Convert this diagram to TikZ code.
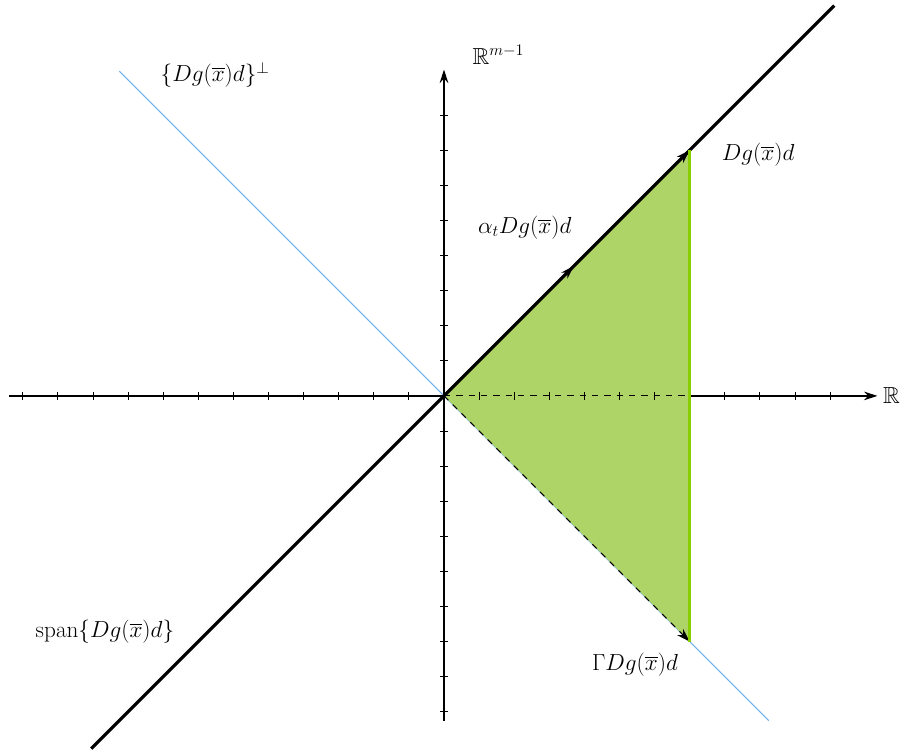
\documentclass[tikz,border=0pt]{standalone}
\usepackage{amsmath}
\usepackage{amssymb}
\usepackage{xcolor}
\usepackage{tikz}
\usetikzlibrary{calc, arrows.meta}
\definecolor{conefill}{RGB}{174,212,104}
\definecolor{coneedge}{RGB}{136,206,0}
\definecolor{perpline}{RGB}{110,178,238}

\begin{document}
\begin{tikzpicture}[lab/.style={font=\LARGE, scale=1.09, transform shape}, >={Stealth[length=11pt, width=7pt]}]
\useasboundingbox (-12.65,-10.17) rectangle (13.02,11.28);

% cone: apex O, tips P=(7,7), Q=(7,-7) ; midpoint arrow at M
\coordinate (O) at (0,0);
\coordinate (P) at (7,7);
\coordinate (Q) at (7,-7);
\coordinate (M) at (3.7,3.7);
\coordinate (X) at (7,0);

%% ── orthogonal complement (blue) ─────────────────────────────────
\coordinate (perpA) at (-9.25,9.25);
\coordinate (perpB) at (9.25,-9.25);
\draw[perpline, line width=0.8pt] (perpA) -- (perpB);

%% ── axes ─────────────────────────────────────────────────────────
\coordinate (hL) at (-12.4,0);
\coordinate (hR) at (12.35,0);
\coordinate (vB) at (0,-9.25);
\coordinate (vT) at (0,9.3);
\draw[->, line width=1.1pt] (hL) -- (hR);
\draw[->, line width=1.1pt] (vB) -- (vT);

%% ── cone (filled triangle, covers the axis) ──────────────────────
\fill[conefill] (O) -- (P) -- (Q) -- cycle;

%% ── ticks ────────────────────────────────────────────────────────
\foreach \i in {-12,...,-1,1,2,...,11}{\draw[line width=0.8pt] (\i,-0.12) -- (\i,0.12);}
\foreach \j in {-9,...,-1,1,2,...,8}{\draw[line width=0.8pt] (-0.12,\j) -- (0.12,\j);}

%% ── span line (black) ────────────────────────────────────────────
\coordinate (spanA) at (-10.05,-10.05);
\coordinate (spanB) at (11.12,11.12);
\draw[line width=2.6pt] (spanA) -- (spanB);

%% ── cone edges ───────────────────────────────────────────────────
\draw[dash pattern=on 5pt off 5pt, line width=0.9pt] (O) -- (X);
\draw[->, line width=1.4pt] (O) -- (M);
\draw[->, line width=1.4pt] (M) -- (P);
\draw[->, dash pattern=on 5pt off 5pt, line width=0.9pt] (O) -- (Q);
\draw[coneedge, line width=2.2pt] (P) -- (Q);

%% ── labels ───────────────────────────────────────────────────────
\node[lab] (realR) at (12.75,0) {$\mathbb{R}$};
\node[lab] (labRm) at (1.55,9.72) {$\mathbb{R}^{m-1}$};
\node[lab] (labPerp) at (-6.52,9.15) {$\{Dg(\overline{x})d\}^{\perp}$};
\node[lab] (labD) at (8.95,6.87) {$Dg(\overline{x})d$};
\node[lab] (labAlpha) at (2.3,4.8) {$\alpha_t Dg(\overline{x})d$};
\node[lab] (labGamma) at (5.44,-7.66) {$\Gamma Dg(\overline{x})d$};
\node[lab] (labSpan) at (-9.66,-6.72) {$\operatorname{span}\{Dg(\overline{x})d\}$};

\end{tikzpicture}
\end{document}
